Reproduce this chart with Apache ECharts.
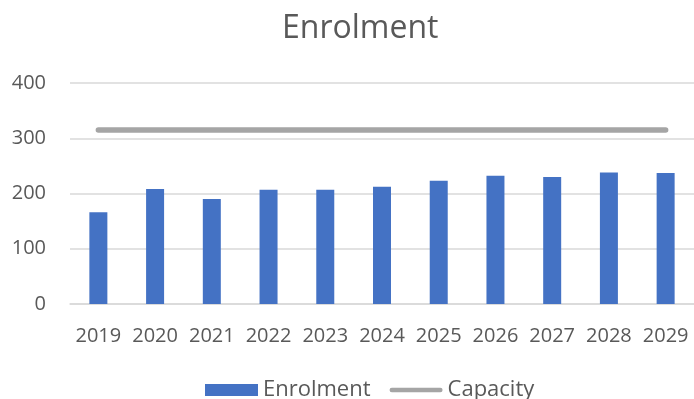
<!DOCTYPE html>
<html>
<head>
<meta charset="utf-8">
<script src="https://cdn.jsdelivr.net/npm/echarts@6/dist/echarts.min.js"></script>
<style>html,body{margin:0;padding:0;background:#fff;}#c{width:694px;height:399px;}</style>
</head>
<body>
<div id="c"></div>
<script>
const years = ['2019','2020','2021','2022','2023','2024','2025','2026','2027','2028','2029'];
const enrolment = [166, 208, 190, 207, 207, 212, 223, 232, 230, 238, 237];
const capacity = [315, 315, 315, 315, 315, 315, 315, 315, 315, 315, 315];
const yTicks = [0, 100, 200, 300, 400];

const font = '"Open Sans", "Noto Sans", sans-serif';
const chart = echarts.init(document.getElementById('c'), null, {renderer: 'canvas'});
chart.setOption({
  animation: false,
  backgroundColor: '#ffffff',
  title: {
    text: 'Enrolment',
    left: 277,
    top: 8,
    textStyle: {fontFamily: font, fontSize: 32, fontWeight: 'normal', color: '#595959'}
  },
  legend: {
    left: 200,
    top: 374,
    itemWidth: 53,
    itemHeight: 12,
    itemGap: 19,
    textStyle: {fontFamily: font, fontSize: 22, color: '#595959'},
    data: [
      {name: 'Enrolment', icon: 'rect'},
      {name: 'Capacity', icon: 'path://M2.5,0 L56.5,0 A2.5,2.5 0 0 1 56.5,5 L2.5,5 A2.5,2.5 0 0 1 2.5,0 Z', itemStyle: {color: '#a5a5a5'}}
    ]
  },
  grid: {left: 70, top: 83, width: 626, height: 221, containLabel: false},
  xAxis: {
    type: 'category',
    data: years,
    axisLine: {show: true, lineStyle: {color: '#d9d9d9', width: 1.5}},
    axisTick: {show: false},
    axisLabel: {fontFamily: font, fontSize: 20, color: '#595959', margin: 22, interval: 0}
  },
  yAxis: {
    type: 'value',
    min: yTicks[0],
    max: yTicks[yTicks.length - 1],
    interval: 100,
    axisLine: {show: false},
    axisTick: {show: false},
    splitLine: {lineStyle: {color: '#d9d9d9', width: 1.5}},
    axisLabel: {fontFamily: font, fontSize: 20, color: '#595959', margin: 24}
  },
  series: [
    {
      name: 'Enrolment',
      type: 'bar',
      data: enrolment,
      barWidth: 18,
      itemStyle: {color: '#4472c4'}
    },
    {
      name: 'Capacity',
      type: 'line',
      data: capacity,
      symbol: 'none',
      lineStyle: {color: '#a5a5a5', width: 5.5, cap: 'round'},
      itemStyle: {color: '#a5a5a5'}
    }
  ]
});
</script>
</body>
</html>
